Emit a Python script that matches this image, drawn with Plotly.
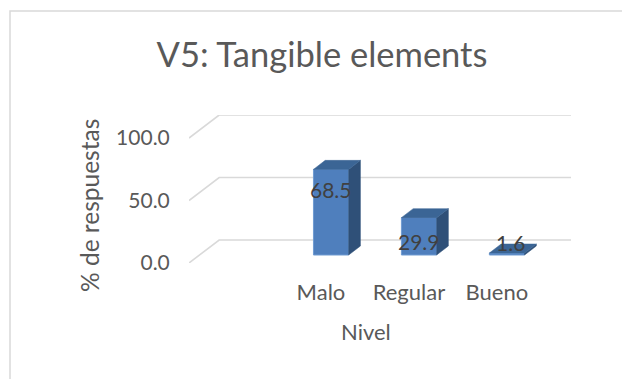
import plotly.graph_objects as go

# Survey results by level
categories = ["Malo", "Regular", "Bueno"]
values = [68.5, 29.9, 1.6]
category_slots = [1, 2, 3]  # slot 0 stays empty on the category axis
y_ticks = [0, 50, 100]
y_tick_labels = ["0.0", "50.0", "100.0"]

WIDTH, HEIGHT = 622, 379
LEFT, RIGHT, TOP, BOTTOM = 189, 571, 115, 263

# Scale of the axes, in pixels per unit
PX_PER_SLOT = 87.5
PX_PER_VALUE = 1.25

# Oblique projection of the floor and walls
WALL_DX = 30 / PX_PER_SLOT
WALL_DY = 23 / PX_PER_VALUE
BAR_DX = 11.7 / PX_PER_SLOT
BAR_DY = 9 / PX_PER_VALUE
BAR_SHIFT_X = 0.115
BAR_SHIFT_Y = 6.4
BAR_WIDTH = 0.4

X_MIN = -0.5
X_END = 3.5
X_MAX = X_END + WALL_DX
Y_MAX = 100 + WALL_DY

FRONT = "#4f7fbd"
SIDE = "#2f5078"
TOP_FACE = "#3b6595"
GRID = "#d9d9d9"
TEXT = "#595959"
LABEL = "#404040"
FONT = "Lato, 'Open Sans', sans-serif"

fig = go.Figure()

# Front faces
bar_x = [slot + BAR_SHIFT_X for slot in category_slots]
fig.add_trace(go.Bar(
    x=bar_x,
    y=values,
    base=BAR_SHIFT_Y,
    width=BAR_WIDTH,
    marker=dict(color=FRONT, line=dict(color="#6f9bd1", width=1)),
    hoverinfo="skip",
    showlegend=False,
))

# Side and top faces follow from each bar's value
for x, value in zip(bar_x, values):
    x0, x1 = x - BAR_WIDTH / 2, x + BAR_WIDTH / 2
    y0, y1 = BAR_SHIFT_Y, BAR_SHIFT_Y + value
    faces = [
        ([x1, x1 + BAR_DX, x1 + BAR_DX, x1, x1],
         [y0, y0 + BAR_DY, y1 + BAR_DY, y1, y0], SIDE),
        ([x0, x0 + BAR_DX, x1 + BAR_DX, x1, x0],
         [y1, y1 + BAR_DY, y1 + BAR_DY, y1, y1], TOP_FACE),
    ]
    for fx, fy, color in faces:
        fig.add_trace(go.Scatter(
            x=fx, y=fy, mode="lines", fill="toself", fillcolor=color,
            line=dict(color=color, width=0.5),
            hoverinfo="skip", showlegend=False,
        ))

# Value labels sit at fixed offsets from the bar tops
label_shift = [-20, -24, 11]
label_nudge = [0, 0, 4]
for x, value, dy, dx in zip(bar_x, values, label_shift, label_nudge):
    fig.add_annotation(
        x=x, y=BAR_SHIFT_Y + value, text=f"{value:.1f}",
        showarrow=False, yshift=dy, xshift=dx,
        font=dict(family=FONT, size=21, color=LABEL),
    )

# Gridlines run across the floor edge and along the back wall
shapes = []
for tick in y_ticks:
    path = (f"M {X_MIN} {tick} L {X_MIN + WALL_DX} {tick + WALL_DY} "
            f"L {X_MAX} {tick + WALL_DY}")
    shapes.append(dict(type="path", path=path, xref="x", yref="y", layer="below",
                       line=dict(color=GRID, width=1.6)))

# Chart frame, running off the right and bottom of the page
plot_w, plot_h = RIGHT - LEFT, BOTTOM - TOP
shapes.append(dict(
    type="rect", xref="paper", yref="paper", layer="below",
    x0=(10 - LEFT) / plot_w, x1=(WIDTH + 20 - LEFT) / plot_w,
    y0=(BOTTOM - HEIGHT - 20) / plot_h, y1=(BOTTOM - 11) / plot_h,
    line=dict(color=GRID, width=1.5),
))

# Axis titles
fig.add_annotation(
    x=(366 - LEFT) / plot_w, y=(BOTTOM - 331) / plot_h,
    xref="paper", yref="paper", xanchor="center", yanchor="middle",
    text="Nivel", showarrow=False,
    font=dict(family=FONT, size=22, color=TEXT),
)
fig.add_annotation(
    x=(89 - LEFT) / plot_w, y=(BOTTOM - 206) / plot_h,
    xref="paper", yref="paper", xanchor="center", yanchor="middle",
    text="% de respuestas", textangle=-90, showarrow=False,
    font=dict(family=FONT, size=24.5, color=TEXT),
)

fig.update_layout(
    width=WIDTH,
    height=HEIGHT,
    margin=dict(l=LEFT, r=WIDTH - RIGHT, t=TOP, b=HEIGHT - BOTTOM, pad=0),
    paper_bgcolor="white",
    plot_bgcolor="rgba(0,0,0,0)",
    title=dict(
        text="V5: Tangible elements",
        x=322 / WIDTH, xanchor="center",
        y=1 - 55 / HEIGHT, yanchor="middle",
        font=dict(family=FONT, size=34.5, color=TEXT),
    ),
    shapes=shapes,
    showlegend=False,
    xaxis=dict(
        range=[X_MIN, X_MAX],
        tickmode="array", tickvals=category_slots, ticktext=categories,
        ticks="outside", ticklen=10, tickcolor="rgba(0,0,0,0)",
        showgrid=False, zeroline=False, showline=False,
        tickfont=dict(family=FONT, size=22, color=TEXT),
    ),
    yaxis=dict(
        range=[0, Y_MAX],
        tickmode="array", tickvals=y_ticks, ticktext=y_tick_labels,
        ticks="outside", ticklen=14, tickcolor="rgba(0,0,0,0)",
        showgrid=False, zeroline=False, showline=False,
        tickfont=dict(family=FONT, size=21, color=TEXT),
    ),
)

fig.write_html("out.html", config=dict(displayModeBar=False))
